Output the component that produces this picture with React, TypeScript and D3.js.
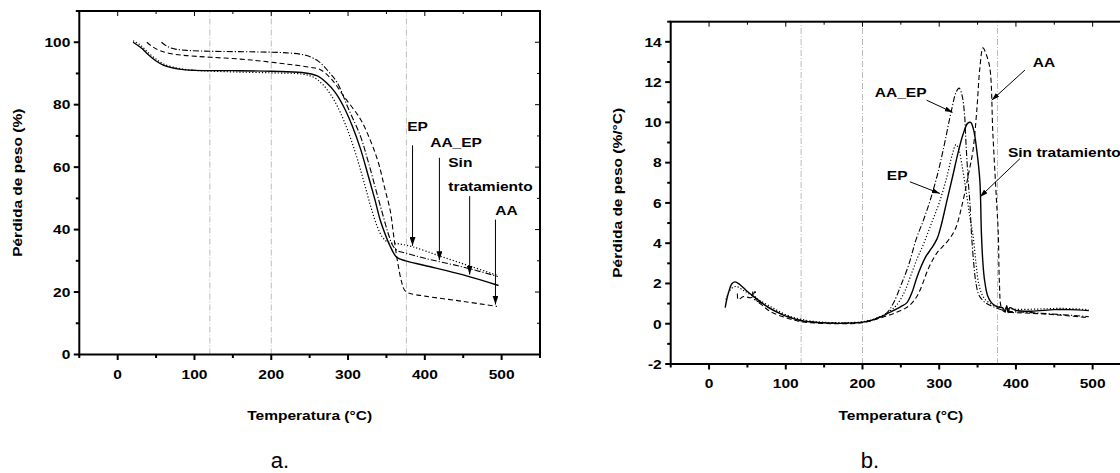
import React from "react";
import * as d3 from "d3";

// ---------- Data ----------
const xTicksMajor = [0, 100, 200, 300, 400, 500];
const xTicksMinor = [-50, 50, 150, 250, 350, 450, 550];
const yTicksA = [0, 20, 40, 60, 80, 100];
const yTicksAMinor = [10, 30, 50, 70, 90, 110];
const yTicksB = [-2, 0, 2, 4, 6, 8, 10, 12, 14];
const yTicksBMinor = [-1, 1, 3, 5, 7, 9, 11, 13, 15];
const refLinesT = [120, 200, 376];

// TGA curves (weight %)
const tgaSin: [number, number][] = [[20,100],[30,98.3],[40,96],[50,94],[60,92.6],[80,91.4],[100,91],[150,90.9],[200,90.7],[240,90.3],[260,89.2],[272,87],[283,84],[294,79.5],[305,73.5],[316,66],[326,57.5],[335,49.6],[342,43],[350,37.5],[355,34.6],[360,32.2],[364,31],[375,30],[400,28.5],[450,25.5],[496,22.1]];
const tgaEP: [number, number][] = [[20,100.5],[30,99],[40,96.6],[50,94.6],[60,93],[80,91.6],[100,91],[150,90.5],[200,90.2],[240,89.8],[255,88.8],[267,86.5],[278,83],[289,78],[300,71.5],[311,63.5],[321,55],[330,47],[338,41],[345,37.5],[352,36],[365,35.5],[384,34.5],[420,31.5],[460,28.2],[495,25.3]];
const tgaAAEP: [number, number][] = [[57,100],[65,98.6],[75,97.8],[90,97.4],[120,97.1],[180,96.9],[220,96.6],[245,95.8],[262,93.8],[275,90.5],[286,87],[300,79],[316,70],[326,62],[336,53],[345,45],[352,39],[358,35],[364,33.3],[375,32.5],[400,30.8],[450,28],[495,25]];
const tgaAA: [number, number][] = [[38,100],[45,98.6],[55,97.3],[70,96.3],[90,95.7],[120,95.2],[160,94.6],[186,94],[220,93],[250,92],[264,91.2],[279,88],[295,82.5],[316,75.4],[330,68],[340,61],[348,53],[355,46],[360,37],[365,29],[370,23],[374,20.5],[380,19.6],[400,18.7],[450,17],[494,15.4]];

// DTG curves (%/°C)
const dtgSin: [number, number][] = [[21,0.8],[25,1.5],[30,2.0],[34,2.08],[40,1.95],[50,1.6],[60,1.3],[70,1.0],[80,0.75],[90,0.55],[100,0.38],[110,0.25],[120,0.15],[130,0.1],[150,0.04],[170,0.02],[190,0.04],[200,0.08],[210,0.15],[220,0.28],[230,0.45],[240,0.65],[250,0.85],[258,1.05],[265,1.6],[270,2.2],[276,2.8],[282,3.3],[290,3.75],[297,4.2],[302,4.8],[310,6.1],[318,7.4],[324,8.4],[331,9.4],[337,9.95],[341,10.0],[345,9.6],[349,8.6],[353,7.1],[355,4.5],[357,3.0],[359,2.2],[363,1.4],[368,1.05],[375,0.85],[383,0.78],[386,0.6],[388,0.9],[390,0.55],[392,0.8],[400,0.66],[420,0.62],[450,0.7],[470,0.7],[495,0.65]];
const dtgEP: [number, number][] = [[22,1.2],[28,1.7],[35,1.85],[45,1.65],[60,1.3],[80,0.85],[100,0.45],[120,0.22],[150,0.07],[200,0.1],[220,0.3],[235,0.6],[245,0.95],[255,1.6],[263,2.4],[272,3.3],[280,4.0],[290,5.0],[300,6.0],[310,7.3],[317,8.4],[322,8.9],[326,8.6],[330,7.8],[335,6.6],[340,5.3],[344,4.4],[348,3.0],[352,1.9],[358,1.3],[368,0.97],[380,0.82],[400,0.72],[430,0.73],[460,0.76],[495,0.7]];
const dtgAAEP: [number, number][] = [[57,1.6],[58,1.25],[70,1.0],[80,0.75],[100,0.4],[120,0.17],[150,0.05],[200,0.08],[220,0.3],[232,0.55],[240,1.0],[250,1.9],[260,2.9],[270,4.2],[280,5.2],[288,6.1],[297,7.3],[305,8.6],[316,10.6],[322,11.5],[326,11.7],[330,11.3],[333,10.4],[335,8.9],[338,7.0],[340,6.0],[342,4.5],[345,3.0],[348,2.0],[352,1.4],[360,1.05],[370,0.85],[385,0.65],[420,0.55],[460,0.45],[495,0.35]];
const dtgAA: [number, number][] = [[37,1.5],[38,1.2],[45,1.35],[55,1.3],[60,1.6],[61,1.2],[70,0.9],[80,0.6],[100,0.3],[120,0.1],[140,0.03],[170,0.0],[200,0.05],[220,0.25],[240,0.5],[255,0.75],[262,0.93],[270,1.3],[276,1.75],[285,2.66],[292,3.2],[298,3.57],[305,3.85],[312,4.15],[321,4.7],[331,6.1],[338,7.4],[344,8.6],[349,10.6],[353,12.7],[357,13.7],[361,13.4],[366,12.7],[370,9.4],[374.7,6.1],[377,4.5],[378.5,2.0],[381,0.8],[385,0.6],[400,0.55],[430,0.5],[460,0.42],[495,0.3]];

const annotA = [
  { lines: ["EP"], tx: 377, ty: 71.5, ax: 384, ay1: 67, ay2: 34.8 },
  { lines: ["AA_EP"], tx: 407, ty: 66.3, ax: 419, ay1: 63, ay2: 30.2 },
  { lines: ["Sin", "tratamiento"], tx: 430.5, ty: 59.9, ax: 458.4, ay1: 50.7, ay2: 25.6 },
  { lines: ["AA"], tx: 491.8, ty: 44.8, ax: 492, ay1: 43.2, ay2: 16.0 },
];
const annotB = [
  { label: "AA", tx: 422, ty: 12.74, x1: 411.8, y1: 12.6, x2: 368.4, y2: 11.1 },
  { label: "AA_EP", tx: 216, ty: 11.25, x1: 283.6, y1: 11.1, x2: 317.5, y2: 10.5 },
  { label: "Sin tratamiento", tx: 389.6, ty: 8.27, x1: 405.3, y1: 8.2, x2: 353.1, y2: 6.3 },
  { label: "EP", tx: 231.7, ty: 7.13, x1: 261.8, y1: 7.05, x2: 300.9, y2: 6.47 },
];

const styles = [
  { key: "sin", dash: null, w: 1.4 },
  { key: "ep", dash: "1.2,2", w: 1.2 },
  { key: "aaep", dash: "6,2,1.2,2", w: 1.1 },
  { key: "aa", dash: "5,3", w: 1.1 },
];

const FONT = "'Liberation Sans', Arial, sans-serif";
const SX = 1.15;

function T({ x, y, anchor = "start", size = 13.5, rotate = 0, children }: any) {
  return (
    <text
      transform={`translate(${x},${y})${rotate ? ` rotate(${rotate})` : ""} scale(${SX},1)`}
      textAnchor={anchor}
      fontFamily={FONT}
      fontWeight="bold"
      fontSize={size}
    >
      {children}
    </text>
  );
}

function Frame({ x, y, yMajor, yMinor, yTitle, yTitleOffset, letter }: any) {
  const [x0, x1] = x.range();
  const [y0, y1] = y.range(); // y0 bottom, y1 top
  const cx = (x0 + x1) / 2;
  return (
    <g>
      {refLinesT.map((t) => (
        <line key={t} x1={x(t)} x2={x(t)} y1={y0} y2={y1} stroke="#bdbdbd" strokeWidth={1} strokeDasharray="6,2,1,2" />
      ))}
      {xTicksMajor.map((t) => (
        <g key={"xm" + t}>
          <line x1={x(t)} x2={x(t)} y1={y0} y2={y0 + 5.5} stroke="#000" strokeWidth={2} />
          <line x1={x(t)} x2={x(t)} y1={y1} y2={y1 + 5} stroke="#000" strokeWidth={1} />
          <T x={x(t)} y={y0 + 24} anchor="middle">{t}</T>
        </g>
      ))}
      {xTicksMinor.map((t) => (
        <g key={"xn" + t}>
          <line x1={x(t)} x2={x(t)} y1={y0} y2={y0 + 3.5} stroke="#000" strokeWidth={2} />
          <line x1={x(t)} x2={x(t)} y1={y1} y2={y1 + 3} stroke="#000" strokeWidth={1} />
        </g>
      ))}
      {yMajor.map((v: number) => (
        <g key={"ym" + v}>
          <line x1={x0 - 5.5} x2={x0} y1={y(v)} y2={y(v)} stroke="#000" strokeWidth={2} />
          <line x1={x1 - 5} x2={x1} y1={y(v)} y2={y(v)} stroke="#000" strokeWidth={1} />
          <T x={x0 - 9} y={y(v) + 4.8} anchor="end">{v}</T>
        </g>
      ))}
      {yMinor.map((v: number) => (
        <g key={"yn" + v}>
          <line x1={x0 - 3.5} x2={x0} y1={y(v)} y2={y(v)} stroke="#000" strokeWidth={2} />
          <line x1={x1 - 3} x2={x1} y1={y(v)} y2={y(v)} stroke="#000" strokeWidth={1} />
        </g>
      ))}
      <rect x={x0} y={y1} width={x1 - x0} height={y0 - y1} fill="none" stroke="#000" strokeWidth={2} />
      <T x={cx} y={420} anchor="middle">Temperatura (°C)</T>
      <T x={x0 - yTitleOffset} y={(y0 + y1) / 2} anchor="middle" rotate={-90}>{yTitle}</T>
      <text x={letter.x} y={468} textAnchor="middle" fontFamily={FONT} fontSize={22}>{letter.t}</text>
    </g>
  );
}

export default function App() {
  const xA = d3.scaleLinear().domain([-50, 550]).range([79.3, 540]);
  const yA = d3.scaleLinear().domain([0, 110]).range([354.5, 11]);
  const xB = d3.scaleLinear().domain([-50, 550]).range([670.7, 1131]);
  const yB = d3.scaleLinear().domain([-2, 15]).range([364, 21.7]);

  const lineA = d3.line<[number, number]>().x((d) => xA(d[0])).y((d) => yA(d[1])).curve(d3.curveCatmullRom.alpha(0.5));
  const lineB = d3.line<[number, number]>().x((d) => xB(d[0])).y((d) => yB(d[1])).curve(d3.curveCatmullRom.alpha(0.5));

  const seriesA = [tgaSin, tgaEP, tgaAAEP, tgaAA];
  const seriesB = [dtgSin, dtgEP, dtgAAEP, dtgAA];

  return (
    <svg width={1120} height={473} style={{ position: "absolute", left: 0, top: 0, background: "#fff" }}>
      <defs>
        <marker id="arr" viewBox="0 0 10 10" refX="10" refY="5" markerWidth="9" markerHeight="6" markerUnits="userSpaceOnUse" orient="auto" preserveAspectRatio="none">
          <path d="M0,0 L10,5 L0,10 Z" fill="#000" />
        </marker>
        <marker id="arrB" viewBox="0 0 10 10" refX="10" refY="5" markerWidth="8" markerHeight="5" markerUnits="userSpaceOnUse" orient="auto" preserveAspectRatio="none">
          <path d="M0,0 L10,5 L0,10 Z" fill="#000" />
        </marker>
      </defs>
      <rect x={0} y={0} width={1120} height={473} fill="#fff" />
      <Frame x={xA} y={yA} yMajor={yTicksA} yMinor={yTicksAMinor} yTitle="Pérdida de peso (%)" yTitleOffset={57} letter={{ x: 280, t: "a." }} />
      <Frame x={xB} y={yB} yMajor={yTicksB} yMinor={yTicksBMinor} yTitle="Pérdida de peso (%/°C)" yTitleOffset={49} letter={{ x: 870, t: "b." }} />
      {seriesA.map((s, i) => (
        <path key={"a" + i} d={lineA(s) || ""} fill="none" stroke="#000" strokeWidth={styles[i].w} strokeDasharray={styles[i].dash || undefined} />
      ))}
      {seriesB.map((s, i) => (
        <path key={"b" + i} d={lineB(s) || ""} fill="none" stroke="#000" strokeWidth={styles[i].w} strokeDasharray={styles[i].dash || undefined} />
      ))}
      {annotA.map((a, i) => (
        <g key={"aa" + i}>
          <line x1={xA(a.ax)} x2={xA(a.ax)} y1={yA(a.ay1)} y2={yA(a.ay2)} stroke="#000" strokeWidth={1} markerEnd="url(#arr)" />
          {a.lines.map((l, j) => (
            <T key={j} x={xA(a.tx)} y={yA(a.ty) + j * 24}>{l}</T>
          ))}
        </g>
      ))}
      {annotB.map((a, i) => (
        <g key={"bb" + i}>
          <line x1={xB(a.x1)} x2={xB(a.x2)} y1={yB(a.y1)} y2={yB(a.y2)} stroke="#000" strokeWidth={1} markerEnd="url(#arrB)" />
          <T x={xB(a.tx)} y={yB(a.ty)}>{a.label}</T>
        </g>
      ))}
    </svg>
  );
}
